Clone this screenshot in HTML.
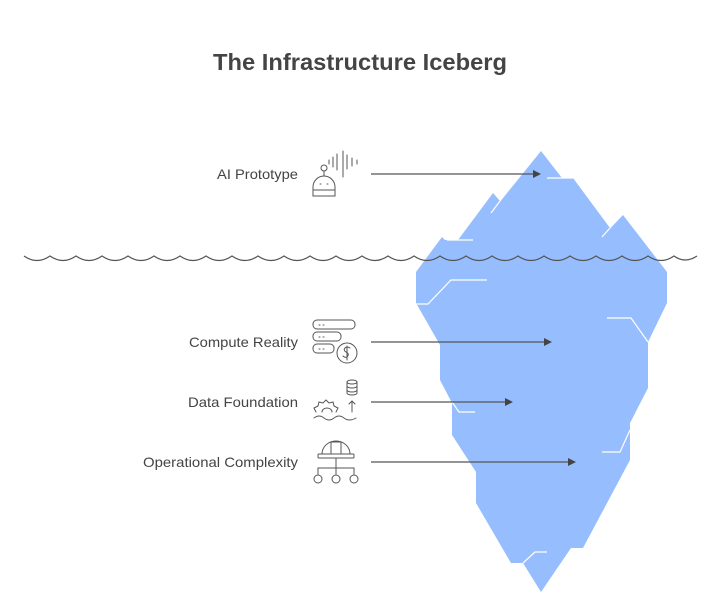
<!DOCTYPE html>
<html><head><meta charset="utf-8"><style>
html,body{margin:0;padding:0;background:#fff;}
svg{display:block;}
text{font-family:"Liberation Sans",sans-serif;fill:#444;}
</style></head><body>
<svg width="721" height="604" viewBox="0 0 721 604" xmlns="http://www.w3.org/2000/svg">
<text x="360" y="70" text-anchor="middle" font-size="23" font-weight="bold" textLength="294" lengthAdjust="spacingAndGlyphs">The Infrastructure Iceberg</text>

<polygon fill="#96bdfd" points="541,151 562,178 573,178 610,228 602,237 623,215 667,272 667,303 648,342 648,388 630,423 630,460 583,548 571,548 541,592 523,563 511,563 476,503 476,472 452,435 452,403 440,380 440,345 416,303 416,272 442,237 445,240 458,240 493,193 500,201 491,213"/>
<g stroke="#fff" stroke-width="1.2" fill="none">
<polyline points="447,240 473,240"/>
<polyline points="416,304 428,304 451,280 487,280"/>
<polyline points="607,318 631,318 648,342"/>
<polyline points="452,402 459,412 475,412"/>
<polyline points="630,430 620,452 602,452"/>
<polyline points="523,563 535,552 547,552"/>
<polyline points="547,178 573,178"/>
<polyline points="602,237 610,228"/>
<polyline points="491,213 500,201"/>
</g>

<path fill="none" stroke="#555" stroke-width="1.2" d="M24,256
q13,9 26,0 q13,9 26,0 q13,9 26,0 q13,9 26,0 q13,9 26,0 q13,9 26,0 q13,9 26,0 q13,9 26,0 q13,9 26,0 q13,9 26,0
q13,9 26,0 q13,9 26,0 q13,9 26,0 q13,9 26,0 q13,9 26,0 q13,9 26,0 q13,9 26,0 q13,9 26,0 q13,9 26,0 q13,9 26,0
q13,9 26,0 q13,9 26,0 q13,9 26,0 q13,9 26,0 q13,9 26,0 q11,8 23,0"/>

<g stroke="#555" stroke-width="1.2" fill="#555">
<line x1="371" y1="174" x2="534" y2="174"/><polygon points="541,174 533,170 533,178" stroke="none" fill="#444"/>
<line x1="371" y1="342" x2="545" y2="342"/><polygon points="552,342 544,338 544,346" stroke="none" fill="#444"/>
<line x1="371" y1="402" x2="506" y2="402"/><polygon points="513,402 505,398 505,406" stroke="none" fill="#444"/>
<line x1="371" y1="462" x2="569" y2="462"/><polygon points="576,462 568,458 568,466" stroke="none" fill="#444"/>
</g>

<g font-size="14">
<text x="217" y="179" textLength="81" lengthAdjust="spacingAndGlyphs">AI Prototype</text>
<text x="189" y="347" textLength="109" lengthAdjust="spacingAndGlyphs">Compute Reality</text>
<text x="188" y="407" textLength="110" lengthAdjust="spacingAndGlyphs">Data Foundation</text>
<text x="143" y="467" textLength="155" lengthAdjust="spacingAndGlyphs">Operational Complexity</text>
</g>

<g stroke="#555" stroke-width="1" fill="none" stroke-linecap="round">
<circle cx="324" cy="168" r="3"/>
<line x1="324" y1="171" x2="324" y2="176"/>
<path d="M313,196 v-9 a11,11 0 0 1 22,0 v9 z"/>
<line x1="313" y1="190" x2="335" y2="190"/>
<line x1="320" y1="184" x2="321" y2="184"/><line x1="327" y1="184" x2="328" y2="184"/>
<line x1="329" y1="160" x2="329" y2="164"/><line x1="333" y1="157" x2="333" y2="167"/><line x1="337" y1="154" x2="337" y2="170"/>
<line x1="343" y1="151" x2="343" y2="177"/><line x1="347" y1="155" x2="347" y2="169"/><line x1="352" y1="158" x2="352" y2="166"/><line x1="357" y1="160" x2="357" y2="164"/>
<rect x="313" y="320" width="42" height="9" rx="4"/>
<rect x="313" y="332" width="28" height="9" rx="4"/>
<rect x="313" y="344" width="21" height="9" rx="4"/>
<line x1="319" y1="325" x2="320" y2="325"/><line x1="323" y1="325" x2="324" y2="325"/>
<line x1="319" y1="337" x2="320" y2="337"/><line x1="323" y1="337" x2="324" y2="337"/>
<line x1="319" y1="349" x2="320" y2="349"/><line x1="323" y1="349" x2="324" y2="349"/>
<circle cx="347" cy="353" r="10"/>
<path d="M350,348 q-3,-2 -5,0 q-2,2 1,4 q4,2 1,5 q-2,1 -4,-1 M347,346 v14"/>
<ellipse cx="352" cy="382" rx="5" ry="2"/>
<path d="M347,382 v11 a5,2 0 0 0 10,0 v-11 M347,386 a5,2 0 0 0 10,0 M347,390 a5,2 0 0 0 10,0"/>
<path d="M352,412 v-11 M349,404 l3,-3 l3,3"/>
<path d="M316,412 l-2,-4 l4,-2 l1,-4 l4,1 l3,-3 l3,3 l4,-1 l1,4 l4,2 l-2,4"/>
<path d="M322,412 a5,4 0 0 1 10,0"/>
<path d="M314,418 q5,-4 10,0 q5,4 10,0 q5,-4 10,0 q5,4 12,0"/>
<path d="M322,454 a14,13 0 0 1 28,0"/>
<rect x="318" y="454" width="36" height="4" rx="1"/>
<path d="M331,442 v12 M341,442 v12 M331,442 h10"/>
<path d="M336,458 v8 M318,474 v-6 h36 v6 M336,466 v8"/>
<circle cx="318" cy="479" r="4"/><circle cx="336" cy="479" r="4"/><circle cx="354" cy="479" r="4"/>
</g>
</svg>
</body></html>
